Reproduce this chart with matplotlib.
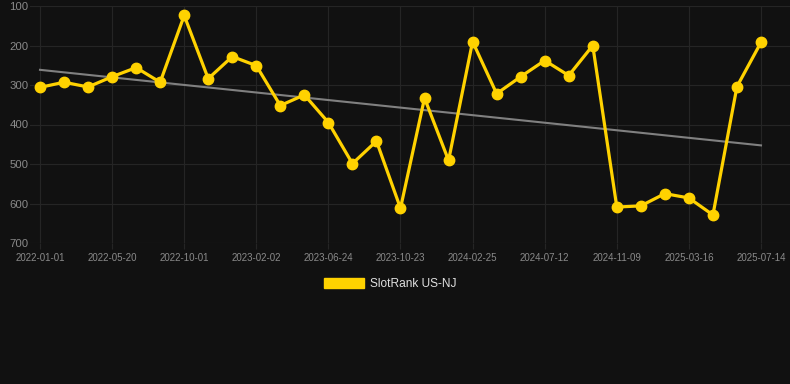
import matplotlib
matplotlib.use("Agg")
import matplotlib.pyplot as plt
import numpy as np

# Data
ranks = [306, 293, 305, 279, 256, 293, 124, 284, 228, 251,
         352, 325, 395, 499, 442, 612, 333, 491, 190, 322,
         279, 238, 276, 200, 609, 606, 575, 586, 629, 304, 192]
tick_labels = ["2022-01-01", "2022-05-20", "2022-10-01", "2023-02-02",
               "2023-06-24", "2023-10-23", "2024-02-25", "2024-07-12",
               "2024-11-09", "2025-03-16", "2025-07-14"]
series_name = "SlotRank US-NJ"
y_ticks = [100, 200, 300, 400, 500, 600, 700]

bg = "#111111"
gold = "#FFD200"

x = np.arange(len(ranks))
tick_pos = np.linspace(0, len(ranks) - 1, len(tick_labels))

fig = plt.figure(figsize=(7.9, 3.84), dpi=100, facecolor=bg)
ax = fig.add_axes([30/790, 1 - 243/384, 760/790, (243 - 6)/384])
ax.set_facecolor(bg)

# trend
coef = np.polyfit(x, ranks, 1)
ax.plot(x, np.polyval(coef, x), color="#808080", lw=1.5, zorder=2)

ax.plot(x, ranks, color=gold, lw=2.3, marker="o", markersize=7.5,
        markerfacecolor=gold, markeredgecolor=gold, zorder=3, label=series_name)

ax.set_ylim(700, 100)
ax.set_xlim(-10/24.03, 30 + 29/24.03)
ax.set_yticks(y_ticks)
ax.set_xticks(tick_pos)
ax.set_xticklabels(tick_labels)

ax.grid(True, color="#252525", lw=0.8)
for s in ax.spines.values():
    s.set_visible(False)
ax.tick_params(axis="y", length=0, pad=1, labelsize=8.2, labelcolor="#8a8a8a")
ax.tick_params(axis="x", length=4, color="#252525", pad=3, labelsize=7, labelcolor="#8a8a8a")
for t in ax.get_yticklabels() + ax.get_xticklabels():
    t.set_fontfamily("Liberation Sans")

leg = fig.legend(handles=[plt.Rectangle((0, 0), 1, 1, color=gold)], labels=[series_name],
                 loc="center", bbox_to_anchor=(0.494, 1 - 284/384), frameon=False,
                 handlelength=3.4, handleheight=0.95, handletextpad=0.5,
                 prop={"family": "Liberation Sans", "size": 8.6})
for t in leg.get_texts():
    t.set_color("#e0e0e0")

fig.savefig("out.png", dpi=100, facecolor=bg)
